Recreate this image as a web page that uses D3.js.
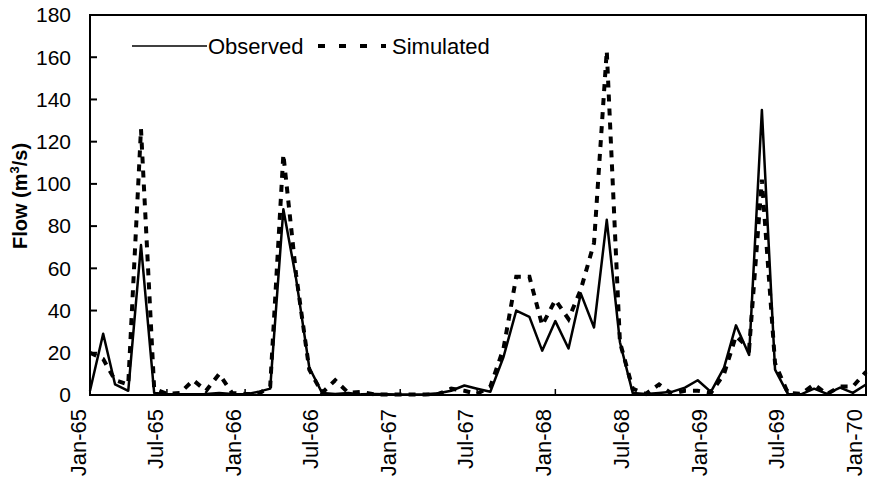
<!DOCTYPE html>
<html>
<head>
<meta charset="utf-8">
<script src="https://cdn.jsdelivr.net/npm/d3@7"></script>
<style>
  body{margin:0;background:#fff;}
  text{font-family:"Liberation Sans",Arial,sans-serif;fill:#000;}
</style>
</head>
<body>
<div id="svg-container"></div>
<script>
const w=871;
const h=488;

// monthly flows, Jan-65 .. Jan-70 (m3/s)
const observed=[
  2,29,5,2,71,1,0.5,0.3,0.3,0.5,1,0.5,
  0.3,1.5,3,88,55,13,1,0.5,1,0.3,0.5,0.3,
  0.2,0.2,0.3,0.8,2,4.5,3,1.5,18,40,37,21,
  35,22,48,32,83,25,1,0.5,1,1.5,3.5,7,
  1.5,13,33,19,135,12,0.5,0.3,3,0.5,3.5,1,
  5
];
const simulated=[
  20,17,7,5,126,3,0.5,1,7,2,10,1,
  0.5,0.5,4,114,57,12,1,7,1,1.5,0.3,0.2,
  0.2,0.2,0.2,0.5,3,2,0.5,4,22,56,56,33,
  45,36,50,72,163,25,3,0.5,5,0.5,2,2,
  1,10,28,22,102,15,1,0.5,5,0.5,4,4,
  11
];
const months=d3.timeMonth.range(new Date(1965,0,1),new Date(1970,1,1));
const xTicks=d3.timeMonth.every(6).range(new Date(1965,0,1),new Date(1970,0,2));
const yTicks=[0,20,40,60,80,100,120,140,160,180];

const margin={left:90,right:5,top:15,bottom:93};

const svg=d3.select("#svg-container").append("svg").attr("width",w).attr("height",h);

const x=d3.scaleTime().domain([new Date(1965,0,1),new Date(1970,0,1)]).range([margin.left,w-margin.right]);
const y=d3.scaleLinear().domain([0,180]).range([h-margin.bottom,margin.top]);

const fmt=d3.timeFormat("%b-%y");

// frame
svg.append("rect")
  .attr("x",x.range()[0]).attr("y",y(180))
  .attr("width",x.range()[1]-x.range()[0]).attr("height",y(0)-y(180))
  .attr("fill","none").attr("stroke","#000").attr("stroke-width",2);

// y ticks (inward) + labels
svg.selectAll(".yt").data(yTicks).enter().append("line")
  .attr("x1",x.range()[0]).attr("x2",x.range()[0]+7)
  .attr("y1",d=>y(d)).attr("y2",d=>y(d))
  .attr("stroke","#000").attr("stroke-width",2);
svg.selectAll(".yl").data(yTicks).enter().append("text")
  .attr("x",71).attr("y",d=>y(d)).attr("dy","0.35em")
  .attr("text-anchor","end").style("font-size","21px")
  .text(d=>d);

// x ticks (inward) + rotated labels
svg.selectAll(".xt").data(xTicks).enter().append("line")
  .attr("x1",d=>x(d)).attr("x2",d=>x(d))
  .attr("y1",y(0)).attr("y2",y(0)-6)
  .attr("stroke","#000").attr("stroke-width",1.5);
svg.selectAll(".xl").data(xTicks).enter().append("text")
  .attr("transform",d=>`translate(${x(d)},${y(0)+14}) rotate(-90)`)
  .attr("dy","-4px")
  .attr("text-anchor","end").style("font-size","22px")
  .text(d=>fmt(d));

// y title
const yt=svg.append("text")
  .attr("transform","translate(27,196) rotate(-90)")
  .attr("text-anchor","middle")
  .style("font-size","20px").style("font-weight","bold");
yt.append("tspan").text("Flow (m");
yt.append("tspan").attr("dy","-8").style("font-size","13px").text("3");
yt.append("tspan").attr("dy","8").text("/s)");

// series
const line=vals=>d3.line().x((d,i)=>x(months[i])).y(d=>y(d))(vals);

svg.append("path").attr("d",line(simulated))
  .attr("fill","none").attr("stroke","#000").attr("stroke-width",4)
  .attr("stroke-dasharray","7,7");
svg.append("path").attr("d",line(observed))
  .attr("fill","none").attr("stroke","#000").attr("stroke-width",2.5)
  .attr("stroke-linejoin","round");

// legend
const lg=svg.append("g");
lg.append("line").attr("x1",132).attr("x2",207).attr("y1",46).attr("y2",46)
  .attr("stroke","#000").attr("stroke-width",1.5);
lg.append("text").attr("x",208).attr("y",46).attr("dy","0.35em")
  .style("font-size","22px").text("Observed");
lg.append("line").attr("x1",318).attr("x2",386).attr("y1",46).attr("y2",46)
  .attr("stroke","#000").attr("stroke-width",4).attr("stroke-dasharray","7,14");
lg.append("text").attr("x",392).attr("y",46).attr("dy","0.35em")
  .style("font-size","22px").text("Simulated");
</script>
</body>
</html>
